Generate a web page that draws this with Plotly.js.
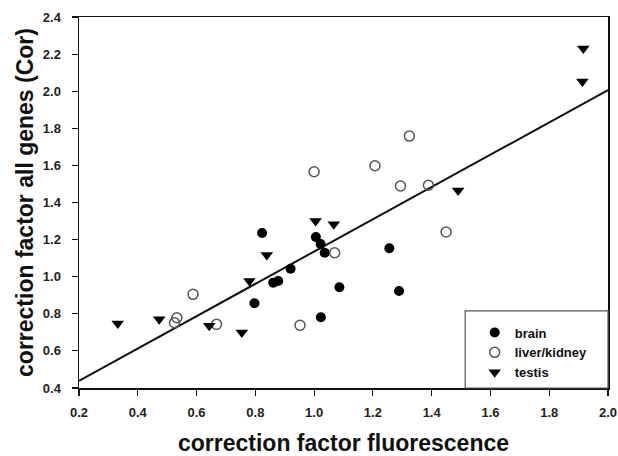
<!DOCTYPE html>
<html><head><meta charset="utf-8">
<script src="https://cdn.plot.ly/plotly-3.0.1.min.js"></script>
<style>html,body{margin:0;padding:0;background:#fff}#chart{width:618px;height:456px}</style>
</head><body><div id="chart"></div>
<script>
// brain (filled circles)
const brainX = [0.823, 1.006, 1.022, 1.036, 0.920, 0.861, 0.878, 0.797, 1.086, 1.023, 1.256, 1.289];
const brainY = [1.236, 1.214, 1.176, 1.129, 1.043, 0.968, 0.977, 0.857, 0.943, 0.781, 1.153, 0.923];
// liver/kidney (open circles)
const liverX = [1.000, 1.324, 1.207, 1.294, 1.389, 1.449, 1.070, 0.588, 0.533, 0.525, 0.668, 0.952];
const liverY = [1.566, 1.758, 1.598, 1.489, 1.493, 1.241, 1.129, 0.905, 0.779, 0.752, 0.743, 0.738];
// testis (triangles)
const testisX = [1.916, 1.913, 1.490, 1.005, 1.067, 0.839, 0.780, 0.332, 0.473, 0.643, 0.754];
const testisY = [2.230, 2.052, 1.465, 1.300, 1.283, 1.117, 0.977, 0.748, 0.770, 0.735, 0.699];
// regression line
const fitX = [0.2, 2.0];
const fitY = [0.439, 2.006];
const xTicks = [0.2, 0.4, 0.6, 0.8, 1.0, 1.2, 1.4, 1.6, 1.8, 2.0];
const yTicks = [0.4, 0.6, 0.8, 1.0, 1.2, 1.4, 1.6, 1.8, 2.0, 2.2, 2.4];
const names = ['brain', 'liver/kidney', 'testis'];

const fam = 'Liberation Sans, Arial, sans-serif';
const traces = [
  {x: fitX, y: fitY, mode: 'lines', line: {color: '#111', width: 2}, showlegend: false, hoverinfo: 'skip'},
  {x: brainX, y: brainY, mode: 'markers', name: names[0],
   marker: {symbol: 'circle', size: 10, color: '#000', line: {width: 0}}},
  {x: liverX, y: liverY, mode: 'markers', name: names[1],
   marker: {symbol: 'circle-open', size: 10, color: '#555', line: {width: 1.5, color: '#555'}}},
  {x: testisX, y: testisY, mode: 'markers', name: names[2],
   marker: {symbol: 'triangle-down', size: 11, color: '#000', line: {width: 0}}}
];
const axisCommon = {
  showgrid: false, zeroline: false, showline: true, linecolor: '#111', linewidth: 1.5,
  mirror: true, ticks: 'outside', ticklen: 6, tickwidth: 1.2, tickcolor: '#111',
  tickfont: {family: fam, size: 13, color: '#222', weight: 'bold'}
};
const layout = {
  width: 618, height: 456,
  margin: {l: 79, r: 10, t: 17, b: 68},
  paper_bgcolor: '#fff', plot_bgcolor: '#fff',
  showlegend: true,
  xaxis: Object.assign({}, axisCommon, {
    range: [0.2, 2.0], tickvals: xTicks, ticktext: xTicks.map(v => v.toFixed(1)),
    ticklabelstandoff: 6,
    title: {text: 'correction factor fluorescence', font: {family: fam, size: 23, color: '#111', weight: 'bold'}, standoff: 17}
  }),
  yaxis: Object.assign({}, axisCommon, {
    range: [0.4, 2.4], tickvals: yTicks, ticktext: yTicks.map(v => v.toFixed(1)),
    ticklabelstandoff: 8,
    title: {text: 'correction factor all genes (Cor)', font: {family: fam, size: 23, color: '#111', weight: 'bold'}, standoff: 3}
  }),
  shapes: [{type: 'rect', xref: 'paper', yref: 'paper', x0: 0.730, x1: 1, y0: 0, y1: 0.208,
            line: {color: '#555', width: 1.2}, fillcolor: 'rgba(0,0,0,0)'}],
  legend: {x: 0.748, y: 0.19, xanchor: 'left', yanchor: 'top', bgcolor: 'rgba(0,0,0,0)',
           borderwidth: 0, font: {family: fam, size: 13, color: '#111', weight: 'bold'}, tracegroupgap: 0}
};
Plotly.newPlot('chart', traces, layout, {displayModeBar: false, staticPlot: true});
</script></body></html>
